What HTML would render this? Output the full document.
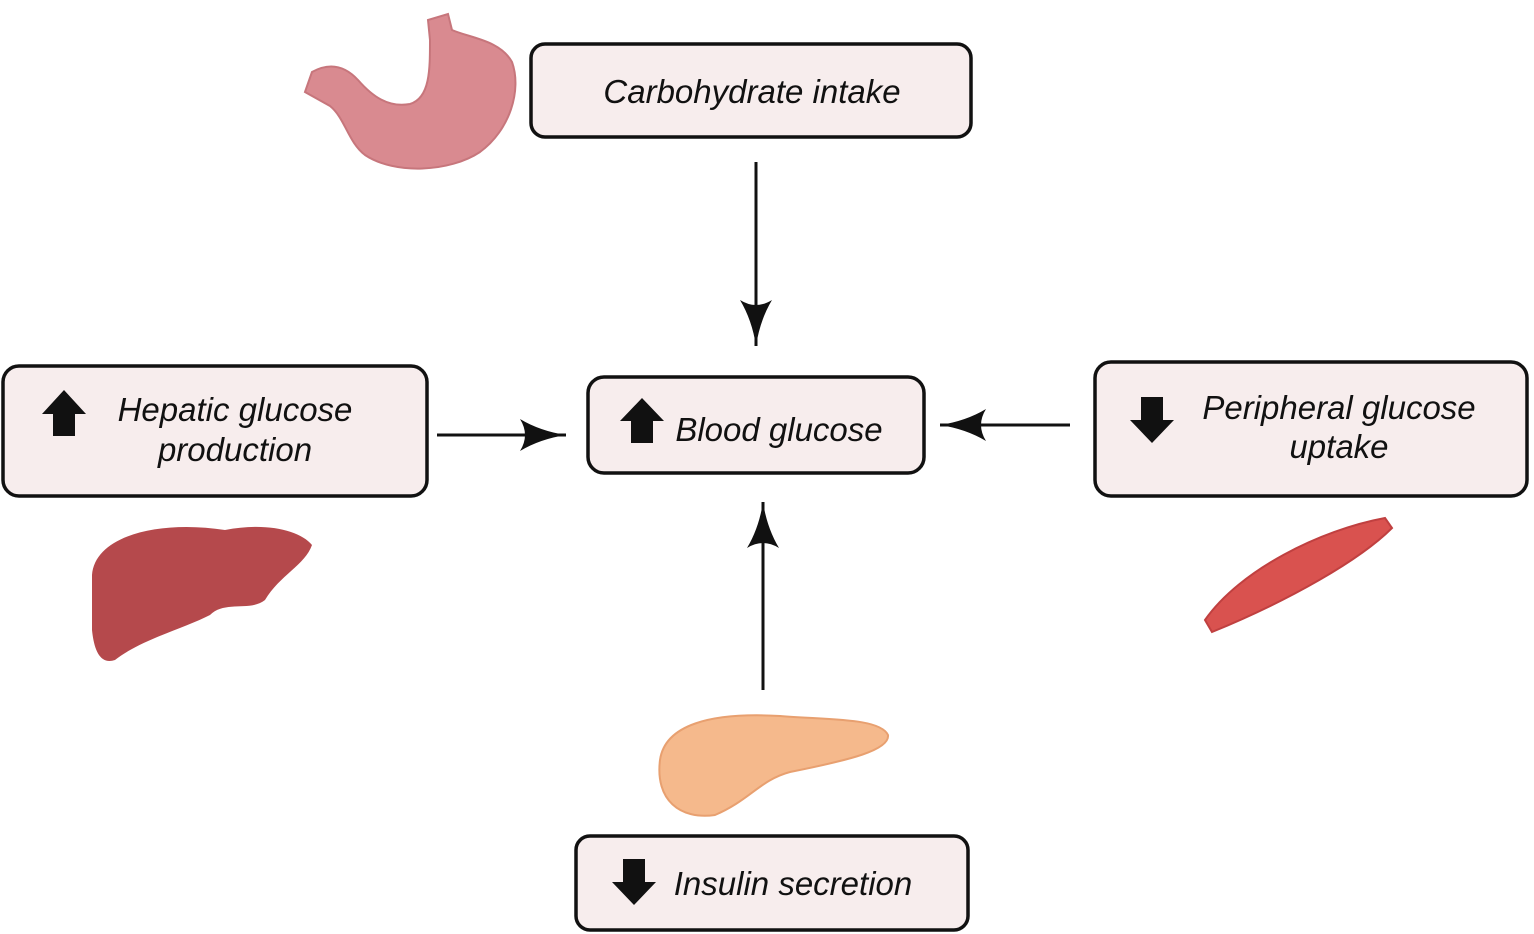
<!DOCTYPE html>
<html><head><style>
html,body{margin:0;padding:0;background:#fff;}
svg{display:block}
text{font-family:"Liberation Sans",Arial,sans-serif;font-style:italic;font-size:33px;fill:#111;}
</style></head><body>
<svg width="1534" height="934" viewBox="0 0 1534 934" xmlns="http://www.w3.org/2000/svg">
<defs>
<marker id="ah" viewBox="0 0 46 32" refX="46" refY="16" markerWidth="46" markerHeight="32" markerUnits="userSpaceOnUse" orient="auto">
<path d="M0,0 Q20,12 46,16 Q20,20 0,32 Q10,16 0,0 Z" fill="#111"/>
</marker>
</defs>
<!-- organs -->
<g>
<path d="M305,92 L312,72 C330,62 345,66 358,80 C372,96 388,108 410,104 C430,98 430,70 430,40 L428,20 L448,14 L452,30 C470,38 500,40 512,62 C522,90 510,130 480,152 C450,172 395,175 365,155 C348,142 345,118 330,106 Z" fill="#d98a90" stroke="#c7767c" stroke-width="2"/>
<path d="M92,575 C95,535 160,520 225,530 C265,522 300,530 312,545 C305,565 280,575 265,600 C250,612 225,600 210,615 C185,628 140,640 115,660 C100,665 94,650 92,630 Z" fill="#b5494c"/>
<path d="M1205,620 C1240,570 1320,530 1385,518 L1392,528 C1360,560 1290,600 1212,632 Z" fill="#d9524f" stroke="#c04040" stroke-width="2"/>
<path d="M660,760 C665,725 710,712 780,716 C830,720 880,718 888,735 C890,750 850,760 790,772 C760,780 750,800 715,815 C680,820 655,800 660,760 Z" fill="#f5b98c" stroke="#e8a070" stroke-width="2"/>
</g>
<!-- boxes -->
<g fill="#f7eded" stroke="#111" stroke-width="3.5">
<rect x="531" y="44" width="440" height="93" rx="14"/>
<rect x="3" y="366" width="424" height="130" rx="16"/>
<rect x="588" y="377" width="336" height="96" rx="16"/>
<rect x="1095" y="362" width="432" height="134" rx="16"/>
<rect x="576" y="836" width="392" height="94" rx="14"/>
</g>
<!-- block arrows -->
<g fill="#111">
<path d="M64,390 L86,414 L75,414 L75,436 L53,436 L53,414 L42,414 Z"/>
<path d="M642,398 L664,421 L653,421 L653,443 L631,443 L631,421 L620,421 Z"/>
<path d="M1152,443 L1174,420 L1163,420 L1163,397 L1141,397 L1141,420 L1130,420 Z"/>
<path d="M634,905 L656,882 L645,882 L645,859 L623,859 L623,882 L612,882 Z"/>
</g>
<!-- connectors -->
<g stroke="#111" stroke-width="3" fill="none">
<line x1="756" y1="162" x2="756" y2="346" marker-end="url(#ah)"/>
<line x1="437" y1="435" x2="566" y2="435" marker-end="url(#ah)"/>
<line x1="1070" y1="425" x2="940" y2="425" marker-end="url(#ah)"/>
<line x1="763" y1="690" x2="763" y2="502" marker-end="url(#ah)"/>
</g>
<!-- labels -->
<text x="752" y="103" text-anchor="middle">Carbohydrate intake</text>
<text x="235" y="421" text-anchor="middle">Hepatic glucose</text>
<text x="235" y="461" text-anchor="middle">production</text>
<text x="779" y="441" text-anchor="middle">Blood glucose</text>
<text x="1339" y="419" text-anchor="middle">Peripheral glucose</text>
<text x="1339" y="458" text-anchor="middle">uptake</text>
<text x="793" y="895" text-anchor="middle">Insulin secretion</text>
</svg>
</body></html>
